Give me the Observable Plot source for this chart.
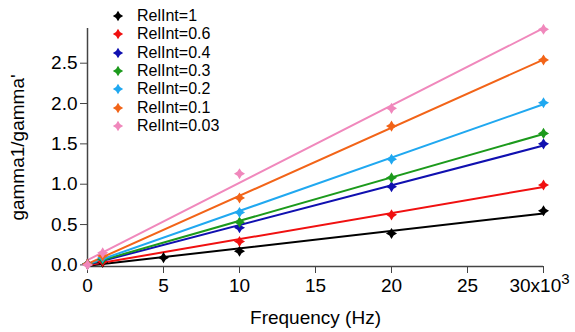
<!DOCTYPE html>
<html><head><meta charset="utf-8">
<script src="https://cdn.jsdelivr.net/npm/d3@7"></script>
<script src="https://cdn.jsdelivr.net/npm/@observablehq/plot@0.6"></script>
<style>
body{margin:0;background:#fff;font-family:"Liberation Sans",Arial,sans-serif}
#wrap{position:relative;width:575px;height:332px}
#legend{position:absolute;left:111px;top:7px;font-size:16px;color:#000}
.row{height:18.3px;display:flex;align-items:center}
.row svg{margin-right:12px}
</style></head>
<body><div id="wrap"><div id="legend"></div></div>
<script>
const seriesNames = ["RelInt=1","RelInt=0.6","RelInt=0.4","RelInt=0.3","RelInt=0.2","RelInt=0.1","RelInt=0.03"];
const seriesColors = ["#000000","#f01010","#1010b0","#1c9a1c","#20a8f0","#f26418","#f088bc"];
// frequencies (Hz) and gamma1/gamma' values for each series
const freqRel1 = [0, 1000, 5000, 10000, 20000, 30000];
const valRel1  = [0.01, 0.03, 0.09, 0.17, 0.39, 0.67];
const freqOther = [0, 1000, 10000, 20000, 30000];
const valRel06  = [0.01, 0.04, 0.29, 0.62, 0.99];
const valRel04  = [0.01, 0.07, 0.46, 0.97, 1.50];
const valRel03  = [0.01, 0.07, 0.53, 1.08, 1.63];
const valRel02  = [0.01, 0.09, 0.65, 1.31, 2.01];
const valRel01  = [0.01, 0.11, 0.83, 1.72, 2.54];
const valRel003 = [0.00, 0.15, 1.13, 1.94, 2.92];
const yTicks = [0, 0.5, 1.0, 1.5, 2.0, 2.5];
const xTicks = [0, 5000, 10000, 15000, 20000, 25000, 30000];

const seriesVals = [valRel1, valRel06, valRel04, valRel03, valRel02, valRel01, valRel003];
const data = [];
seriesNames.forEach((s, i) => {
  const fs = i === 0 ? freqRel1 : freqOther;
  fs.forEach((f, j) => data.push({s, f, v: seriesVals[i][j]}));
});

const star4 = {
  draw(ctx, size) {
    const R = Math.sqrt(size / Math.PI) * 1.15, w = R * 0.38;
    ctx.moveTo(0, -R); ctx.lineTo(w, -w); ctx.lineTo(R, 0); ctx.lineTo(w, w);
    ctx.lineTo(0, R); ctx.lineTo(-w, w); ctx.lineTo(-R, 0); ctx.lineTo(-w, -w); ctx.closePath();
  }
};

const chart = Plot.plot({
  width: 575, height: 332,
  marginLeft: 87, marginRight: 32, marginTop: 28, marginBottom: 66,
  style: {fontFamily: "Liberation Sans, Arial, sans-serif", fontSize: "19px", color: "#000", background: "#fff"},
  x: {domain: [0, 30000]},
  y: {domain: [-0.02, 2.93]},
  color: {domain: seriesNames, range: seriesColors},
  marks: [
    Plot.ruleX([0], {stroke: "#444", strokeWidth: 1.5}),
    Plot.ruleY([-0.02], {stroke: "#444", strokeWidth: 1.5}),
    Plot.axisY({ticks: yTicks, tickFormat: d3.format(".1f"), tickSize: 7, tickPadding: 3, stroke: "#444",
      label: "gamma1/gamma'", labelAnchor: "center", labelArrow: "none", labelOffset: 77, fontSize: 19}),
    Plot.axisX({ticks: xTicks, tickFormat: d => d === 30000 ? "30x10^3" : d / 1000, tickSize: 7, tickPadding: 5, stroke: "#444",
      label: "Frequency (Hz)", labelAnchor: "center", labelArrow: "none", labelOffset: 57, fontSize: 19}),
    Plot.linearRegressionY(data, {x: "f", y: "v", stroke: "s", ci: 0, strokeWidth: 2}),
    Plot.dot(data, {x: "f", y: "v", fill: "s", symbol: star4, r: 4.8, stroke: "none"})
  ]
});
document.getElementById("wrap").prepend(chart);

// render the exponent of the last x tick label as a raised superscript
d3.select(chart).selectAll("text").each(function() {
  const txt = this.textContent;
  if (txt.includes("^")) {
    const [base, exp] = txt.split("^");
    const sel = d3.select(this);
    sel.text(null);
    sel.append("tspan").text(base);
    sel.append("tspan").attr("dy", "-0.55em").attr("font-size", "15px").text(exp);
    sel.attr("dx", -4);
  }
});

const legend = document.getElementById("legend");
seriesNames.forEach((s, i) => {
  const row = document.createElement("div");
  row.className = "row";
  const sv = d3.create("svg").attr("width", 14).attr("height", 14);
  const p = d3.path(); star4.draw(p, 4.5 * 4.5 * Math.PI);
  sv.append("path").attr("d", p.toString()).attr("transform", "translate(7,7)").attr("fill", seriesColors[i]);
  row.append(sv.node());
  const t = document.createElement("span"); t.textContent = s; row.append(t);
  legend.append(row);
});
</script>
</body></html>
